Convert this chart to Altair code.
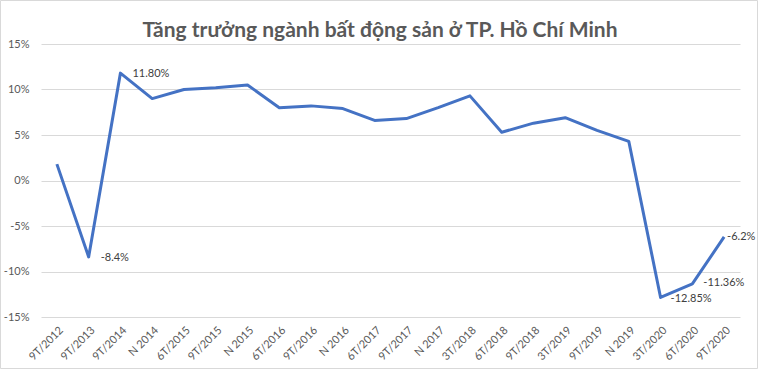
import altair as alt
import pandas as pd

categories = ["9T/2012", "9T/2013", "9T/2014", "N 2014", "6T/2015", "9T/2015", "N 2015",
              "6T/2016", "9T/2016", "N 2016", "6T/2017", "9T/2017", "N 2017", "3T/2018",
              "6T/2018", "9T/2018", "3T/2019", "9T/2019", "N 2019", "3T/2020", "6T/2020", "9T/2020"]
values = [1.8, -8.4, 11.8, 9.0, 10.0, 10.2, 10.5, 8.0, 8.2, 7.9, 6.6, 6.8, 8.0, 9.3,
          5.3, 6.3, 6.9, 5.5, 4.3, -12.85, -11.36, -6.2]

label_cats = ["9T/2013", "9T/2014", "3T/2020", "6T/2020", "9T/2020"]
label_texts = ["-8.4%", "11.80%", "-12.85%", "-11.36%", "-6.2%"]
title_text = ["Tăng trưởng ngành bất động sản ở TP. Hồ Chí Minh"]

df = pd.DataFrame({"cat": categories, "val": values})
val_map = dict(zip(categories, values))
lab = pd.DataFrame({"cat": label_cats, "val": [val_map[c] for c in label_cats], "txt": label_texts})

FONT = "Lato"
GRAY = "#595959"

x = alt.X("cat:N", sort=categories, title=None,
          scale=alt.Scale(paddingInner=1, paddingOuter=0.5),
          axis=alt.Axis(labelAngle=-45, labelColor=GRAY, labelFontSize=11, labelFont=FONT,
                        ticks=False, domain=False, grid=False, labelPadding=7))
y = alt.Y("val:Q", title=None,
          scale=alt.Scale(domain=[-15, 15], nice=False),
          axis=alt.Axis(values=[-15, -10, -5, 0, 5, 10, 15], labelExpr="datum.value + '%'",
                        labelColor=GRAY, labelFontSize=11, labelFont=FONT, ticks=False,
                        domain=False, gridColor="#D9D9D9", gridWidth=1, labelPadding=12))

border = alt.Chart(pd.DataFrame({"a": [0]})).mark_rect(fill=None, stroke="#D9D9D9", strokeWidth=1).encode(
    x=alt.value(-40.5), x2=alt.value(758 - 41 - 0.5), y=alt.value(-43.5), y2=alt.value(368 - 44 + 0.5)
)

title = alt.Chart(pd.DataFrame({"t": title_text})).mark_text(
    font=FONT, fontSize=21, fontWeight="bold", color=GRAY, align="center", baseline="middle"
).encode(x=alt.value(380 - 41), y=alt.value(31 - 44), text="t:N")

line = alt.Chart(df).mark_line(color="#4472C4", strokeWidth=3, strokeJoin="round").encode(x=x, y=y)

offsets = {"9T/2013": (12, 1), "9T/2014": (12, 1), "3T/2020": (10, 2), "6T/2020": (11, -1), "9T/2020": (3, 0)}
texts = []
for c, (ddx, ddy) in offsets.items():
    texts.append(
        alt.Chart(lab[lab["cat"] == c]).mark_text(align="left", baseline="middle", dx=ddx, dy=ddy,
                                                  fontSize=11, font=FONT, color="#404040")
        .encode(x=alt.X("cat:N", sort=categories), y="val:Q", text="txt:N")
    )

chart = alt.layer(border, title, line, *texts).properties(
    width=699, height=273,
    autosize=alt.AutoSizeParams(type="none"),
    padding={"left": 41, "top": 44, "right": 18, "bottom": 53},
    background="white",
).configure_view(stroke=None)

chart.save("out.html", embed_options={"renderer": "svg", "actions": False})
